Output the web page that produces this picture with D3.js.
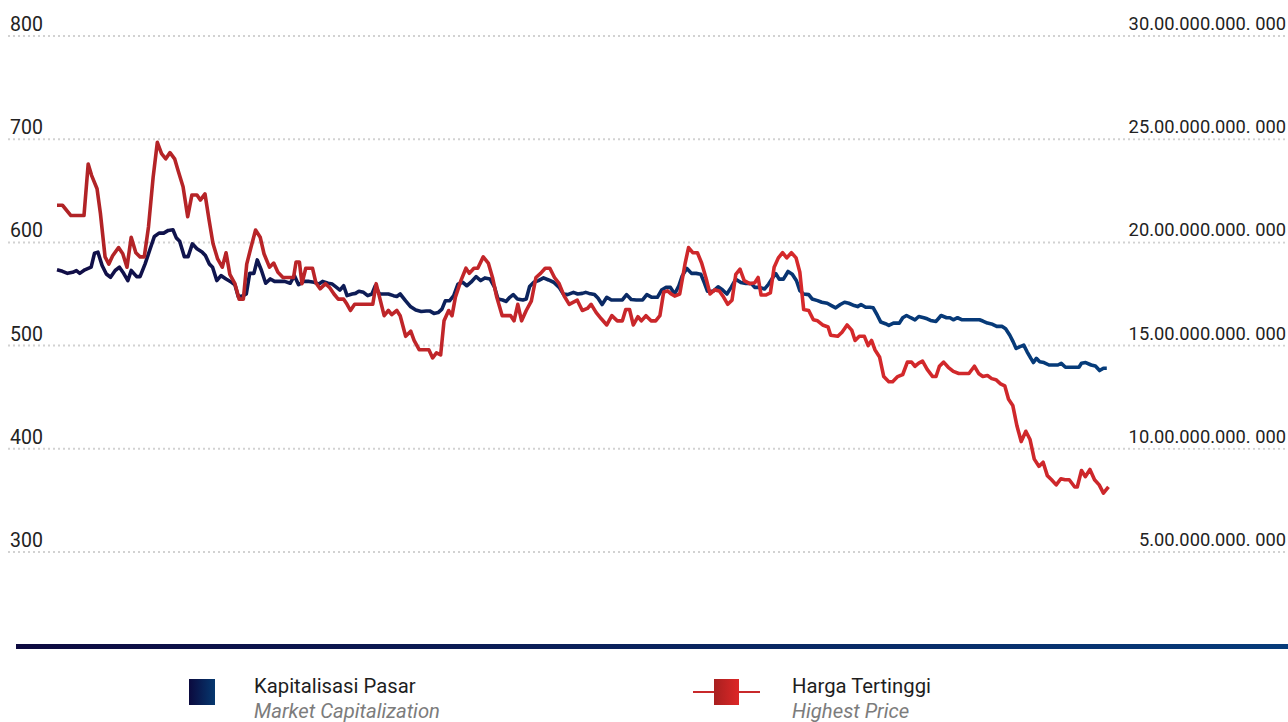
<!DOCTYPE html>
<html>
<head>
<meta charset="utf-8">
<script src="https://cdn.jsdelivr.net/npm/d3@7"></script>
<style>
  body { margin: 0; background: #fff; }
  svg { display: block; font-family: Roboto, "Noto Sans", sans-serif; }
</style>
</head>
<body>
<div id="visArea"></div>
<script>
// Display Constants
var viewWidth = 1288
var viewHeight = 722

// left axis (Harga Tertinggi, Rp) and right axis (Kapitalisasi Pasar, Rp trillion)
var priceTicks = [300, 400, 500, 600, 700, 800]
var capTicks = [5, 10, 15, 20, 25, 30]
var capTickLabel = (v) => v + ".00.000.000. 000"

var legendLabels = ["Kapitalisasi Pasar", "Harga Tertinggi"]
var legendSubLabels = ["Market Capitalization", "Highest Price"]

// [trading day, value]
var priceData = [
  [0,636],[1.3,636],[3.3,626],[6.4,626],[7.4,676],[8.2,665],[9.5,652],[10.3,628],[11.4,586],[12.3,579],
  [13.2,587],[14.6,595],[15.6,589],[16.6,576],[17.6,605],[18.7,590],[19.7,586],[20.7,586],[21.7,615],[22.8,663],
  [23.8,697],[24.8,686],[25.8,681],[26.8,687],[27.9,681],[28.7,670],[29.9,654],[31,625],[32,646],[33.2,646],
  [34,641],[35.1,647],[36.1,621],[37,599],[38.1,584],[39.2,576],[40.1,590],[41,569],[42.2,560],[43.2,545],
  [44.2,545],[45,579],[46,595],[47.1,612],[48.2,605],[49.1,589],[50.4,576],[51.4,580],[52.4,571],[53.6,566],
  [54.9,566],[56.1,566],[56.7,581],[57.5,581],[58.1,560],[59,575],[60.6,575],[61.4,561],[62.4,555],[63.7,560],
  [64.7,556],[65.7,550],[66.7,545],[68,545],[68.8,540],[69.6,534],[70.6,540],[71.6,540],[72.9,540],[74.1,540],
  [74.9,540],[75.7,560],[76.5,547],[77.6,529],[78.6,534],[79.4,530],[80.6,534],[81.4,529],[82.7,509],[83.9,514],
  [84.7,505],[85.9,496],[87.2,496],[88.2,496],[89.1,488],[90,493],[91,491],[91.8,524],[92.9,534],[93.7,529],
  [94.5,547],[95.8,563],[97,575],[97.8,570],[98.9,575],[99.8,575],[101.1,586],[102.3,580],[103.3,566],[104.3,547],
  [105.6,529],[106.8,529],[107.6,529],[108.4,524],[109.3,540],[110.2,524],[111.3,534],[112.5,543],[113.6,566],[114.7,570],
  [115.8,575],[116.9,575],[118,566],[119.1,560],[120.3,548],[121.5,540],[123.4,544],[124.6,534],[125.8,536],[126.7,540],
  [127.9,532],[129.1,526],[130.4,520],[131.6,529],[132.9,524],[134.1,524],[134.9,535],[135.8,535],[136.7,520],[137.8,528],
  [138.6,524],[139.7,529],[140.9,524],[142,524],[143,529],[143.9,552],[144.8,553],[145.7,550],[146.5,548],[147.7,550],
  [149,580],[149.8,595],[150.8,590],[151.9,590],[152.9,580],[153.9,566],[154.9,550],[156,554],[157.1,553],[158.1,547],
  [159.1,540],[160.1,544],[161,569],[162,574],[163,563],[164.3,560],[165.5,561],[166.3,566],[167,549],[168.1,549],
  [169.2,551],[170.1,576],[171.1,585],[172.1,590],[173.1,585],[174.2,590],[175.3,585],[176.2,571],[177.1,535],[178.3,534],
  [179.4,525],[180.4,524],[181.6,520],[182.9,518],[183.5,510],[185.2,509],[186.2,513],[187.4,520],[188.5,515],[189.3,505],
  [190.3,509],[191.5,509],[192.4,500],[193.2,505],[194,496],[195.1,489],[196.1,470],[197.3,465],[198.2,465],[199.4,470],
  [200.6,472],[201.7,484],[202.7,484],[203.5,480],[204.4,483],[205.3,485],[206.4,477],[207.7,470],[208.5,470],[209.3,480],
  [210.3,484],[211.4,479],[212.6,475],[213.9,473],[215.1,473],[216.3,473],[217.6,480],[218.6,473],[219.6,470],[220.7,471],
  [221.7,468],[222.7,467],[223.8,463],[224.8,461],[225.7,448],[226.7,442],[227.7,422],[228.7,407],[229.8,417],[230.8,409],
  [231.8,390],[232.9,383],[233.9,387],[234.9,374],[235.9,370],[237,365],[238.1,371],[239.1,370],[240.1,370],[241.4,363],
  [242,363],[243,379],[243.9,373],[245,380],[246.1,370],[247.2,365],[248.2,357],[249.4,363]
]

var capData = [
  [0,18.67],[1.3,18.6],[2.5,18.5],[3.7,18.55],[4.6,18.63],[5.4,18.5],[6.6,18.67],[8.1,18.8],[8.9,19.48],[9.7,19.53],
  [10.7,18.88],[11.7,18.47],[12.7,18.31],[13.8,18.64],[14.8,18.8],[15.8,18.5],[16.8,18.15],[17.6,18.64],[18.9,18.34],[19.7,18.34],
  [20.9,18.96],[22.1,19.69],[23.1,20.29],[24.2,20.45],[25.3,20.45],[26.4,20.58],[27.5,20.61],[28.3,20.22],[29.1,20.06],[30.2,19.31],
  [31.1,19.31],[32.1,19.93],[33.2,19.69],[34.4,19.53],[35.2,19.36],[36.1,18.96],[36.9,18.8],[37.9,18.15],[38.9,18.39],[40.1,18.23],
  [41.4,18.07],[42.2,17.95],[43,17.37],[44.2,17.42],[44.9,17.5],[45.7,18.5],[46.7,18.5],[47.5,19.15],[48.5,18.64],[49.5,18.02],
  [50.6,18.23],[51.6,18.11],[52.8,18.11],[54,18.11],[55.3,18.02],[56.3,18.39],[57.3,17.95],[58.5,18.11],[59.8,18.11],[61,18.07],
  [62.1,17.98],[63,18.11],[64.3,18.02],[65.3,17.98],[66.3,17.82],[67.1,17.69],[68,17.9],[68.8,17.42],[70,17.5],[70.8,17.53],
  [71.6,17.63],[72.7,17.58],[73.7,17.42],[74.7,17.5],[75.5,17.9],[76.5,17.5],[77.6,17.5],[78.6,17.5],[79.8,17.42],[80.6,17.38],
  [81.4,17.5],[82.7,17.17],[83.9,16.88],[85.1,16.72],[86.4,16.65],[87.6,16.68],[88.4,16.68],[89.4,16.56],[90.4,16.6],[91.3,16.77],
  [92.1,17.17],[93.1,17.17],[94.1,17.42],[95.1,17.98],[96.2,18.07],[97.2,17.9],[98.2,18.07],[99.4,18.34],[100.5,18.15],[101.5,18.28],
  [102.7,18.23],[103.8,17.82],[104.6,17.26],[105.7,17.21],[106.5,17.14],[107.4,17.34],[108.2,17.47],[109.2,17.26],[110.5,17.21],[111.3,17.26],
  [112.1,17.86],[113.1,18.07],[114.2,18.15],[115.4,18.28],[116.6,18.18],[117.8,18.07],[119.1,17.82],[120.1,17.5],[121.1,17.47],[122.5,17.58],
  [123.5,17.5],[124.6,17.53],[125.4,17.58],[126.2,17.53],[127.5,17.47],[128.3,17.31],[129.3,16.99],[130.4,17.34],[131.5,17.21],[132.4,17.21],
  [134.1,17.21],[135.1,17.47],[136.2,17.23],[137.4,17.21],[138.9,17.21],[139.9,17.47],[141.1,17.34],[142.4,17.34],[143.4,17.69],[144.4,17.82],
  [145.5,17.82],[146.5,17.5],[147.5,17.9],[148.3,18.38],[149.4,18.74],[150.5,18.5],[151.6,18.5],[152.7,18.46],[153.5,18.06],[154.3,17.63],
  [155.6,17.63],[156.8,17.85],[157.9,17.69],[158.9,17.5],[159.9,17.82],[161,18.22],[162.2,18.06],[163.4,18.01],[164.7,18.01],[165.5,17.82],
  [166.7,17.82],[167.8,17.74],[168.8,17.98],[169.8,18.3],[170.5,18.49],[171.3,18.22],[172.3,18.22],[173.4,18.59],[174.4,18.46],[175.4,18.14],
  [176.2,17.66],[177.1,17.5],[178.3,17.47],[179.1,17.26],[180.4,17.18],[181.4,17.1],[182.7,17.05],[183.7,16.94],[184.7,16.83],[185.8,16.99],
  [186.8,17.1],[187.8,17.05],[189.1,16.94],[189.9,16.89],[190.7,16.99],[191.8,16.86],[192.8,16.86],[193.6,16.83],[194.6,16.46],[195.4,16.14],
  [196.5,16.06],[197.3,15.98],[198.4,16.09],[199.8,16.09],[200.6,16.35],[201.5,16.46],[202.5,16.35],[203.5,16.25],[204.4,16.41],[205.6,16.35],
  [206.4,16.3],[207.2,16.22],[208.5,16.17],[209.7,16.46],[211,16.35],[211.8,16.35],[212.6,16.25],[213.6,16.35],[214.7,16.25],[215.9,16.25],
  [217.6,16.25],[218.8,16.25],[219.6,16.19],[220.7,16.09],[221.9,16.03],[222.9,15.93],[224.2,15.93],[225,15.82],[226,15.5],[226.8,15.18],
  [227.5,14.86],[228.3,14.94],[229.3,15.02],[230.1,14.7],[231,14.38],[231.6,14.18],[232.3,14.38],[233.1,14.22],[234.1,14.18],[235.3,14.06],
  [236.7,14.06],[237.4,14.06],[238.2,14.14],[239.2,13.95],[240.3,13.95],[241.5,13.95],[242.4,13.95],[243,14.14],[244,14.18],[245.3,14.06],
  [246.3,14.01],[247.3,13.79],[248.2,13.9],[249,13.9]
]

var xScale = d3.scaleLinear().domain([0, 250]).range([57, 1111])
var yPrice = d3.scaleLinear().domain([300, 800]).range([552, 36])
var yCap = d3.scaleLinear().domain([5, 30]).range([552, 36])

var svg = d3.select('#visArea')
  .append('svg')
  .attr('width', viewWidth)
  .attr('height', viewHeight)

var defs = svg.append('defs')
function addGradient(id, x1, x2, stops) {
  var g = defs.append('linearGradient')
    .attr('id', id)
    .attr('gradientUnits', 'userSpaceOnUse')
    .attr('x1', x1).attr('x2', x2)
    .attr('y1', 0).attr('y2', 0)
  stops.forEach((s) => g.append('stop').attr('offset', s[0]).attr('stop-color', s[1]))
}
addGradient('blueLine', 57, 1111, [[0, '#110d46'], [0.5, '#0b2862'], [0.75, '#073877'], [1, '#063c7a']])
addGradient('redLine', 57, 1111, [[0, '#b02326'], [0.55, '#c9272b'], [0.7, '#d6292b'], [1, '#cc272b']])
addGradient('bottomBar', 16, 1288, [[0, '#0d0a40'], [1, '#063b7a']])
addGradient('blueSwatch', 189, 215, [[0, '#0b0a3e'], [1, '#06386f']])
addGradient('redSwatch', 714, 739, [[0, '#a82020'], [1, '#dd2727']])

// dotted grid lines
svg.append('g')
  .selectAll('line')
  .data(priceTicks)
  .join('line')
  .attr('x1', 8)
  .attr('x2', viewWidth)
  .attr('y1', (d) => yPrice(d))
  .attr('y2', (d) => yPrice(d))
  .attr('stroke', '#d2d2d2')
  .attr('stroke-width', 2)
  .attr('stroke-dasharray', '2,3')

// left axis labels
svg.append('g')
  .selectAll('text')
  .data(priceTicks)
  .join('text')
  .attr('x', 10)
  .attr('y', (d) => yPrice(d) - 5)
  .attr('font-size', 19.5)
  .attr('fill', '#222')
  .text((d) => d)

// right axis labels, with white box so dots stop at the label
var capLabels = svg.append('g')
  .selectAll('g')
  .data(capTicks)
  .join('g')
  .attr('transform', (d) => 'translate(1286,' + (yCap(d) - 6) + ')')

capLabels.append('rect')
  .attr('x', -156)
  .attr('y', -14)
  .attr('width', 158)
  .attr('height', 19)
  .attr('fill', '#fff')

capLabels.append('text')
  .attr('text-anchor', 'end')
  .attr('font-size', 18.3)
  .attr('fill', '#222')
  .text((d) => capTickLabel(d))

var capLine = d3.line()
  .x((d) => xScale(d[0]))
  .y((d) => yCap(d[1]))

var priceLine = d3.line()
  .x((d) => xScale(d[0]))
  .y((d) => yPrice(d[1]))

svg.append('path')
  .datum(capData)
  .attr('d', capLine)
  .attr('fill', 'none')
  .attr('stroke', 'url(#blueLine)')
  .attr('stroke-width', 3.6)
  .attr('stroke-linejoin', 'round')

svg.append('path')
  .datum(priceData)
  .attr('d', priceLine)
  .attr('fill', 'none')
  .attr('stroke', 'url(#redLine)')
  .attr('stroke-width', 3.6)
  .attr('stroke-linejoin', 'round')

// bottom bar
svg.append('rect')
  .attr('x', 16)
  .attr('y', 644)
  .attr('width', viewWidth - 16)
  .attr('height', 5)
  .attr('fill', 'url(#bottomBar)')

// legend
svg.append('rect')
  .attr('x', 189).attr('y', 679)
  .attr('width', 26).attr('height', 26)
  .attr('fill', 'url(#blueSwatch)')

svg.append('line')
  .attr('x1', 693).attr('x2', 760)
  .attr('y1', 692).attr('y2', 692)
  .attr('stroke', '#c8292b')
  .attr('stroke-width', 2)

svg.append('rect')
  .attr('x', 714).attr('y', 679)
  .attr('width', 25).attr('height', 26)
  .attr('fill', 'url(#redSwatch)')

var legendX = [254, 792]
svg.append('g')
  .selectAll('text')
  .data(legendLabels)
  .join('text')
  .attr('x', (d, i) => legendX[i])
  .attr('y', 693)
  .attr('font-size', 20.3)
  .attr('fill', '#1e1e1e')
  .text((d) => d)

svg.append('g')
  .selectAll('text')
  .data(legendSubLabels)
  .join('text')
  .attr('x', (d, i) => legendX[i])
  .attr('y', 718)
  .attr('font-size', 20.3)
  .attr('font-style', 'italic')
  .attr('fill', '#7c7c7c')
  .text((d) => d)
</script>
</body>
</html>
